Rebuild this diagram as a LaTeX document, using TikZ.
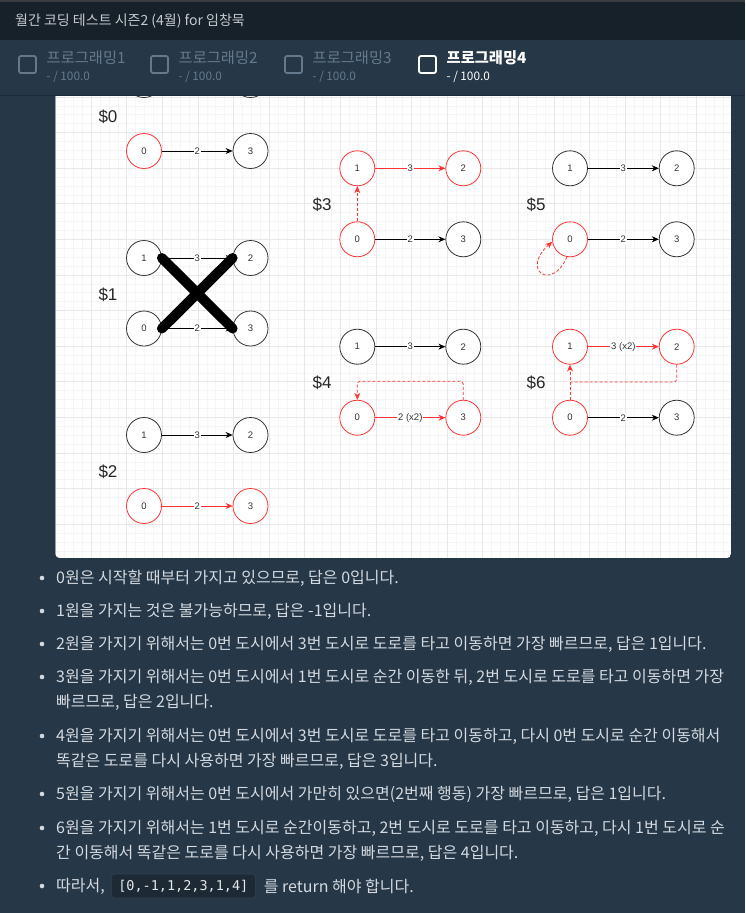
\documentclass[tikz,border=0pt]{standalone}
\usepackage{fontspec}
\setmainfont{Noto Sans CJK KR}
\newfontfamily\drawiofont{Liberation Sans}
\newfontfamily\codefont{DejaVu Sans Mono}
\usetikzlibrary{arrows.meta,positioning}

\definecolor{headbg}{HTML}{172129}
\definecolor{topline}{HTML}{3A3D40}
\definecolor{pagebg}{HTML}{263747}
\definecolor{sepline}{HTML}{1D2A36}
\definecolor{titlegray}{HTML}{C3CAD0}
\definecolor{tabgray}{HTML}{647A8C}
\definecolor{bodytext}{HTML}{D3D9DF}
\definecolor{codebg}{HTML}{1D2935}
\definecolor{codeborder}{HTML}{33424F}
\definecolor{codetext}{HTML}{E2E7EB}
\definecolor{minorgrid}{HTML}{F5F5F5}
\definecolor{majorgrid}{HTML}{E8E8E8}
\definecolor{cityline}{HTML}{333333}
\definecolor{hotred}{HTML}{FF3333}

\tikzset{
    city/.style={circle, draw=cityline, line width=0.8pt, fill=white, minimum size=35pt, inner sep=0pt, text=cityline, font=\drawiofont\fontsize{9.5}{10}\selectfont},
    hot/.style={city, draw=hotred},
    road/.style={draw=black, line width=0.8pt, -{Stealth[length=7pt,width=6pt]}},
    hotroad/.style={road, draw=hotred, -{Stealth[length=7pt,width=6pt,fill=hotred]}},
    jumpline/.style={draw=hotred, line width=0.8pt, dash pattern=on 3pt off 2pt},
    jump/.style={jumpline, -{Stealth[length=7pt,width=6pt,fill=hotred]}},
    cost/.style={fill=white, inner sep=1pt, text=cityline, font=\drawiofont\fontsize{9.5}{10}\selectfont},
    case/.style={inner sep=0pt, text=black!85, font=\drawiofont\fontsize{17}{17}\selectfont},
    item/.style={anchor=west, inner sep=0pt, text=bodytext, font=\fontsize{16}{16}\selectfont},
    tabbox/.style={draw=tabgray, line width=1.8pt, rounded corners=2pt},
    tabtitle/.style={anchor=west, inner sep=0pt, text=tabgray, font=\fontsize{15.3}{16}\selectfont},
    tabscore/.style={anchor=west, inner sep=0pt, text=tabgray, font=\fontsize{11.8}{12}\selectfont}
}

\begin{document}
\begin{tikzpicture}[x=1pt, y=-1pt]
    \useasboundingbox (0,0) rectangle (745,913);
    \fill[pagebg] (0,0) rectangle (745,913);

    \begin{scope}
        \clip[rounded corners=4pt] (55.5,60) rectangle (731,558);
        \fill[white] (55.5,60) rectangle (731,558);
        \foreach \i in {0,...,75} \draw[minorgrid, line width=0.6pt] (55.5+\i*8.9,60) -- (55.5+\i*8.9,558);
        \foreach \i in {0,...,56} \draw[minorgrid, line width=0.6pt] (55.5,61.3+\i*8.9) -- (731,61.3+\i*8.9);
        \foreach \i in {0,...,18} \draw[majorgrid, line width=0.7pt] (55.5+\i*35.6,60) -- (55.5+\i*35.6,558);
        \foreach \i in {0,...,13} \draw[majorgrid, line width=0.7pt] (55.5,61.3+\i*35.6) -- (731,61.3+\i*35.6);

        \node[city] (top-1) at (144,80) {};
        \node[city] (top-2) at (250.5,80) {};

        \node[case] (lab0) at (108,117) {\$0};
        \node[hot] (s0-0) at (144,151) {0};
        \node[city] (s0-3) at (250.5,151) {3};
        \draw[road] (s0-0) -- node[cost] {2} (s0-3);

        \node[case] (lab1) at (108,295) {\$1};
        \node[city] (s1-1) at (144,258) {1};
        \node[city] (s1-2) at (250.5,258) {2};
        \node[city] (s1-0) at (144,328.5) {0};
        \node[city] (s1-3) at (250.5,328.5) {3};
        \draw[road] (s1-1) -- node[cost] {3} (s1-2);
        \draw[road] (s1-0) -- node[cost] {2} (s1-3);
        \draw[line width=10pt, line cap=round] (s1-1.east) -- (s1-3.west);
        \draw[line width=10pt, line cap=round] (s1-0.east) -- (s1-2.west);

        \node[case] (lab2) at (108,472) {\$2};
        \node[city] (s2-1) at (144,435) {1};
        \node[city] (s2-2) at (250.5,435) {2};
        \node[hot] (s2-0) at (144,506) {0};
        \node[hot] (s2-3) at (250.5,506) {3};
        \draw[road] (s2-1) -- node[cost] {3} (s2-2);
        \draw[hotroad] (s2-0) -- node[cost] {2} (s2-3);

        \node[case] (lab3) at (322,205) {\$3};
        \node[hot] (s3-1) at (357.3,168.3) {1};
        \node[hot] (s3-2) at (463.3,168.3) {2};
        \node[hot] (s3-0) at (357.3,239.3) {0};
        \node[city] (s3-3) at (463.3,239.3) {3};
        \draw[hotroad] (s3-1) -- node[cost] {3} (s3-2);
        \draw[road] (s3-0) -- node[cost] {2} (s3-3);
        \draw[jump] (s3-0) -- (s3-1);

        \node[case] (lab5) at (536,205) {\$5};
        \node[city] (s5-1) at (570,168.3) {1};
        \node[city] (s5-2) at (676.7,168.3) {2};
        \node[hot] (s5-0) at (570,239.3) {0};
        \node[city] (s5-3) at (676.7,239.3) {3};
        \draw[road] (s5-1) -- node[cost] {3} (s5-2);
        \draw[road] (s5-0) -- node[cost] {2} (s5-3);
        \draw[jump] (s5-0.260) .. controls (552,292) and (520,270) .. (s5-0.188);

        \node[case] (lab4) at (322,383) {\$4};
        \node[city] (s4-1) at (357.3,346.7) {1};
        \node[city] (s4-2) at (463.3,346.7) {2};
        \node[hot] (s4-0) at (357.3,417.7) {0};
        \node[hot] (s4-3) at (463.3,417.7) {3};
        \draw[road] (s4-1) -- node[cost] {3} (s4-2);
        \draw[hotroad] (s4-0) -- node[cost] {2 (x2)} (s4-3);
        \draw[jump, rounded corners=3pt] (s4-3.north) -- ++(0,-18.5) -| (s4-0.north);

        \node[case] (lab6) at (536,383) {\$6};
        \node[hot] (s6-1) at (570,346.7) {1};
        \node[hot] (s6-2) at (676.7,346.7) {2};
        \node[hot] (s6-0) at (570,417.7) {0};
        \node[city] (s6-3) at (676.7,417.7) {3};
        \draw[hotroad] (s6-1) -- node[cost] {3 (x2)} (s6-2);
        \draw[road] (s6-0) -- node[cost] {2} (s6-3);
        \draw[jump] (s6-0) -- (s6-1);
        \coordinate (join6) at (571,382);
        \draw[jumpline, rounded corners=3pt] (s6-2.south) |- (join6);
    \end{scope}

    \fill[headbg] (0,0) rectangle (745,40);
    \fill[topline] (0,0) rectangle (745,2);
    \fill[pagebg] (0,40) rectangle (745,95);
    \draw[sepline, line width=1pt] (0,95.5) -- (745,95.5);
    \node[anchor=west, inner sep=0pt, text=titlegray, font=\fontsize{14}{14}\selectfont] (title) at (15,21) {월간 코딩 테스트 시즌2 (4월) for 임창묵};

    \foreach \x/\n in {19/1,151/2,285/3} {
        \draw[tabbox] (\x,56) rectangle ++(17,17);
        \node[tabtitle] (tab\n) at (\x+27.5,58) {프로그래밍\n};
        \node[tabscore] (score\n) at (\x+27.5,77) {-\hspace{2.5pt}/\hspace{2.5pt}100.0};
    }
    \draw[tabbox, draw=white] (419,56) rectangle ++(17,17);
    \node[tabtitle, text=white, font=\bfseries\fontsize{15.3}{16}\selectfont] (tab4) at (446.5,58) {프로그래밍4};
    \node[tabscore, text=white] (score4) at (446.5,77) {-\hspace{2.5pt}/\hspace{2.5pt}100.0};

    \foreach \y in {578,611,644,677,736,794,828,886}
        \fill[bodytext] (42,\y) circle (2.3pt);
    \node[item] (t1) at (56,578) {0원은 시작할 때부터 가지고 있으므로, 답은 0입니다.};
    \node[item] (t2) at (56,611) {1원을 가지는 것은 불가능하므로, 답은 -1입니다.};
    \node[item] (t3) at (56,644) {2원을 가지기 위해서는 0번 도시에서 3번 도시로 도로를 타고 이동하면 가장 빠르므로, 답은 1입니다.};
    \node[item] (t4) at (56,677) {3원을 가지기 위해서는 0번 도시에서 1번 도시로 순간 이동한 뒤, 2번 도시로 도로를 타고 이동하면 가장};
    \node[item] (t4b) at (56,702) {빠르므로, 답은 2입니다.};
    \node[item] (t5) at (56,736) {4원을 가지기 위해서는 0번 도시에서 3번 도시로 도로를 타고 이동하고, 다시 0번 도시로 순간 이동해서};
    \node[item] (t5b) at (56,761) {똑같은 도로를 다시 사용하면 가장 빠르므로, 답은 3입니다.};
    \node[item] (t6) at (56,794) {5원을 가지기 위해서는 0번 도시에서 가만히 있으면(2번째 행동) 가장 빠르므로, 답은 1입니다.};
    \node[item] (t7) at (56,828) {6원을 가지기 위해서는 1번 도시로 순간이동하고, 2번 도시로 도로를 타고 이동하고, 다시 1번 도시로 순};
    \node[item] (t7b) at (56,853) {간 이동해서 똑같은 도로를 다시 사용하면 가장 빠르므로, 답은 4입니다.};
    \node[item] (t8) at (56,886) {따라서,};
    \node[fill=codebg, draw=codeborder, line width=0.6pt, rounded corners=3pt, inner xsep=7pt, minimum height=24pt, text=codetext, font=\codefont\fontsize{13.5}{14}\selectfont, right=6pt of t8] (code) {[0,-1,1,2,3,1,4]};
    \node[item, right=8pt of code] (t8b) {를 return 해야 합니다.};
\end{tikzpicture}
\end{document}
